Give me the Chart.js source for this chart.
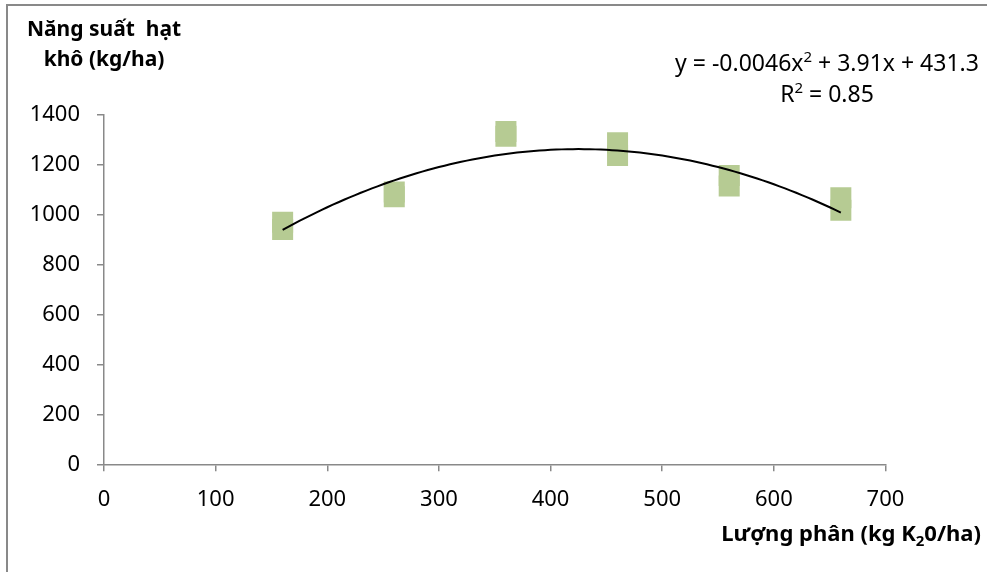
<!DOCTYPE html>
<html>
<head>
<meta charset="utf-8">
<script src="https://cdn.jsdelivr.net/npm/chart.js@4/dist/chart.umd.min.js"></script>
<style>
  html, body { margin: 0; padding: 0; background: #ffffff; }
  #wrap { width: 987px; height: 572px; position: relative; }
</style>
</head>
<body>
<div id="wrap"><canvas id="c" width="987" height="572"></canvas></div>
<script>
// Potassium dose (kg K2O/ha) and dry grain yield (kg/ha), two replicate readings per dose
const doses      = [160, 260, 360, 460, 560, 660];
const yieldLow   = [940, 1071, 1314, 1237, 1114, 1017];
const yieldHigh  = [969, 1090, 1333, 1288, 1157, 1067];

// Quadratic trend y = a*x^2 + b*x + c, as printed on the chart
const trendCoef  = [-0.0046, 3.91, 431.3];
const trendRange = [160, 660];
const rSquared   = 0.85;

// Axis ticks
const xTicks = [0, 100, 200, 300, 400, 500, 600, 700];
const yTicks = [0, 200, 400, 600, 800, 1000, 1200, 1400];

// Text
const yTitleLines = ['Năng suất  hạt', 'khô (kg/ha)'];
const xTitleParts = ['Lượng phân (kg K', '2', '0/ha)'];

const FONT = '"Noto Sans", "Open Sans", sans-serif';
const AXIS_GRAY = '#898989';
const MARKER = '#b6cb93';

const scatterPoints = [];
doses.forEach((d, i) => {
  scatterPoints.push({ x: d, y: yieldLow[i] });
  scatterPoints.push({ x: d, y: yieldHigh[i] });
});

const trendPoints = [];
for (let x = trendRange[0]; x <= trendRange[1]; x += 5) {
  trendPoints.push({ x: x, y: trendCoef[0] * x * x + trendCoef[1] * x + trendCoef[2] });
}

function fmtCoef(v) { return String(Math.abs(v)); }

const textPlugin = {
  id: 'chartText',
  beforeDraw(chart) {
    const ctx = chart.ctx;
    ctx.save();
    ctx.fillStyle = AXIS_GRAY;
    ctx.fillRect(6, 4, 981, 2);
    ctx.fillRect(6, 4, 2, 568);
    ctx.restore();
  },
  afterDraw(chart) {
    const ctx = chart.ctx;
    const area = chart.chartArea;
    ctx.save();
    ctx.fillStyle = '#000000';
    ctx.textBaseline = 'alphabetic';

    // Y-axis title, centred over the axis line
    ctx.font = 'bold 21px ' + FONT;
    ctx.textAlign = 'center';
    ctx.fillText(yTitleLines[0], area.left, 36);
    ctx.fillText(yTitleLines[1], area.left, 66);

    // Trendline equation with superscripts
    const big = '23px ' + FONT;
    const sup = '15px ' + FONT;
    const sign = v => (v < 0 ? '- ' : '+ ');
    const eqParts = [
      { t: 'y = ' + (trendCoef[0] < 0 ? '-' : '') + fmtCoef(trendCoef[0]) + 'x', f: big, dy: 0 },
      { t: '2', f: sup, dy: -9 },
      { t: ' ' + sign(trendCoef[1]) + fmtCoef(trendCoef[1]) + 'x ' + sign(trendCoef[2]) + fmtCoef(trendCoef[2]), f: big, dy: 0 }
    ];
    const r2Parts = [
      { t: 'R', f: big, dy: 0 },
      { t: '2', f: sup, dy: -9 },
      { t: ' = ' + rSquared.toFixed(2), f: big, dy: 0 }
    ];
    function drawRun(parts, cx, baseY, align) {
      ctx.textAlign = 'left';
      let w = 0;
      parts.forEach(p => { ctx.font = p.f; w += ctx.measureText(p.t).width; });
      let x = align === 'center' ? cx - w / 2 : cx - w;
      parts.forEach(p => {
        ctx.font = p.f;
        ctx.fillText(p.t, x, baseY + p.dy);
        x += ctx.measureText(p.t).width;
      });
    }
    drawRun(eqParts, 827, 71, 'center');
    drawRun(r2Parts, 827, 102, 'center');

    // X-axis title with subscript
    const bold = 'bold 22px ' + FONT;
    const sub = 'bold 15px ' + FONT;
    drawRun([
      { t: xTitleParts[0], f: bold, dy: 0 },
      { t: xTitleParts[1], f: sub, dy: 5 },
      { t: xTitleParts[2], f: bold, dy: 0 }
    ], 981, 541, 'right');

    ctx.restore();
  }
};

const tickFont = { family: FONT, size: 22 };

new Chart(document.getElementById('c'), {
  type: 'scatter',
  data: {
    datasets: [
      {
        type: 'line',
        data: trendPoints,
        borderColor: '#000000',
        borderWidth: 2,
        pointRadius: 0,
        fill: false,
        tension: 0
      },
      {
        type: 'scatter',
        data: scatterPoints,
        pointStyle: 'rect',
        pointRadius: 14.85,
        pointHoverRadius: 14.85,
        backgroundColor: MARKER,
        borderColor: MARKER,
        borderWidth: 0
      }
    ]
  },
  options: {
    responsive: false,
    devicePixelRatio: 1,
    animation: false,
    events: [],
    layout: { padding: { left: 0, right: 101.5, top: 114.7, bottom: 0 } },
    plugins: {
      legend: { display: false },
      tooltip: { enabled: false },
      title: { display: false }
    },
    scales: {
      x: {
        type: 'linear',
        min: 0, max: 700,
        afterBuildTicks: s => { s.ticks = xTicks.map(v => ({ value: v })); },
        afterFit: s => { s.height = 107.7; },
        ticks: { color: '#000000', font: tickFont, padding: 15, maxRotation: 0, callback: v => String(v) },
        grid: { drawOnChartArea: false, drawTicks: true, tickLength: 7, color: AXIS_GRAY, lineWidth: 1.5 },
        border: { display: true, color: AXIS_GRAY, width: 1.5 }
      },
      y: {
        type: 'linear',
        min: 0, max: 1400,
        afterBuildTicks: s => { s.ticks = yTicks.map(v => ({ value: v })); },
        afterFit: s => { s.width = 104; },
        ticks: { color: '#000000', font: tickFont, padding: 17, callback: v => String(v) },
        grid: { drawOnChartArea: false, drawTicks: true, tickLength: 7, color: AXIS_GRAY, lineWidth: 1.5 },
        border: { display: true, color: AXIS_GRAY, width: 1.5 }
      }
    }
  },
  plugins: [textPlugin]
});
</script>
</body>
</html>
